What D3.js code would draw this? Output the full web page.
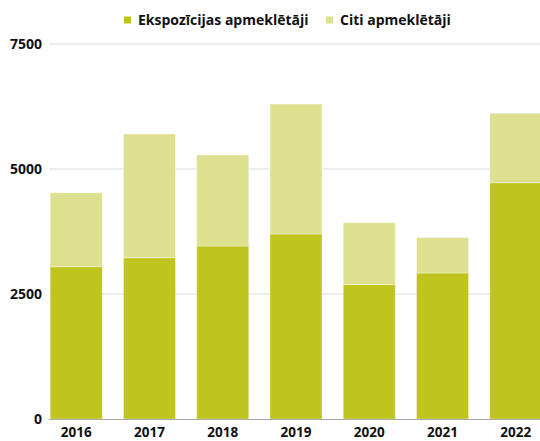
<!DOCTYPE html>
<html lang="lv">
<head>
<meta charset="UTF-8">
<title>Apmeklētāji</title>
<script src="https://d3js.org/d3.v7.min.js"></script>
<style>
  body { margin: 0; background: #fff; }
  svg { display: block; font-family: "Open Sans", "Noto Sans", sans-serif; }
  .tick text { font-weight: bold; fill: #111; }
</style>
</head>
<body>
<div id="chart"></div>
<script>
// dati
const years = ["2016", "2017", "2018", "2019", "2020", "2021", "2022"];
const ekspozicijas = [3045, 3225, 3460, 3700, 2690, 2920, 4725];
const citi = [1480, 2475, 1820, 2600, 1235, 710, 1390];
const seriesNames = ["Ekspozīcijas apmeklētāji", "Citi apmeklētāji"];
const colors = ["#bfc41f", "#dde18f"];
const yTicks = [0, 2500, 5000, 7500];

const width = 540, height = 441;

const svg = d3.select("#chart").append("svg")
    .attr("width", width)
    .attr("height", height);

const x = d3.scaleBand()
    .domain(years)
    .range([48, 544])
    .paddingInner(0.29)
    .paddingOuter(0.03);

const y = d3.scaleLinear()
    .domain([0, 7500])
    .range([419, 44]);

// režģis
svg.append("g")
    .selectAll("line")
    .data(yTicks.filter(d => d > 0))
    .join("line")
    .attr("x1", 49).attr("x2", width)
    .attr("y1", d => y(d)).attr("y2", d => y(d))
    .attr("stroke", "#dcdcdc")
    .attr("stroke-width", 1);

// stabiņi
const table = years.map((yr, i) => ({year: yr, a: ekspozicijas[i], b: citi[i]}));
const stack = d3.stack().keys(["a", "b"])(table);

svg.append("g")
    .selectAll("g")
    .data(stack)
    .join("g")
    .attr("fill", (d, i) => colors[i])
    .selectAll("rect")
    .data(d => d)
    .join("rect")
    .attr("x", d => x(d.data.year))
    .attr("width", x.bandwidth())
    .attr("y", d => y(d[1]))
    .attr("height", d => y(d[0]) - y(d[1]))
    .attr("stroke", "rgba(255,255,255,0.35)")
    .attr("stroke-width", 1);

// nulles līnija
svg.append("line")
    .attr("x1", 49).attr("x2", width)
    .attr("y1", y(0) + 0.5).attr("y2", y(0) + 0.5)
    .attr("stroke", "#a6a6a6")
    .attr("stroke-width", 1);

// y ass
svg.append("g")
    .attr("transform", "translate(42,0)")
    .call(d3.axisLeft(y).tickValues(yTicks).tickSize(0).tickPadding(0).tickFormat(d3.format("d")))
    .call(g => g.select(".domain").remove())
    .selectAll("text")
    .attr("font-size", 14)
    .attr("font-family", "'Open Sans', sans-serif");

// x ass
svg.append("g")
    .attr("transform", `translate(0,${y(0)})`)
    .call(d3.axisBottom(x).tickSize(0).tickPadding(8))
    .call(g => g.select(".domain").remove())
    .selectAll("text")
    .attr("font-size", 13.5)
    .attr("font-family", "'Open Sans', sans-serif");

// leģenda
const legend = svg.append("g").attr("font-size", 14).attr("font-weight", "bold");
const legendX = [124, 326];
seriesNames.forEach((name, i) => {
    legend.append("rect")
        .attr("x", legendX[i]).attr("y", 16.5)
        .attr("width", 7).attr("height", 7)
        .attr("fill", colors[i]);
    legend.append("text")
        .attr("x", legendX[i] + 14).attr("y", 25)
        .attr("fill", "#111")
        .text(name);
});
</script>
</body>
</html>
